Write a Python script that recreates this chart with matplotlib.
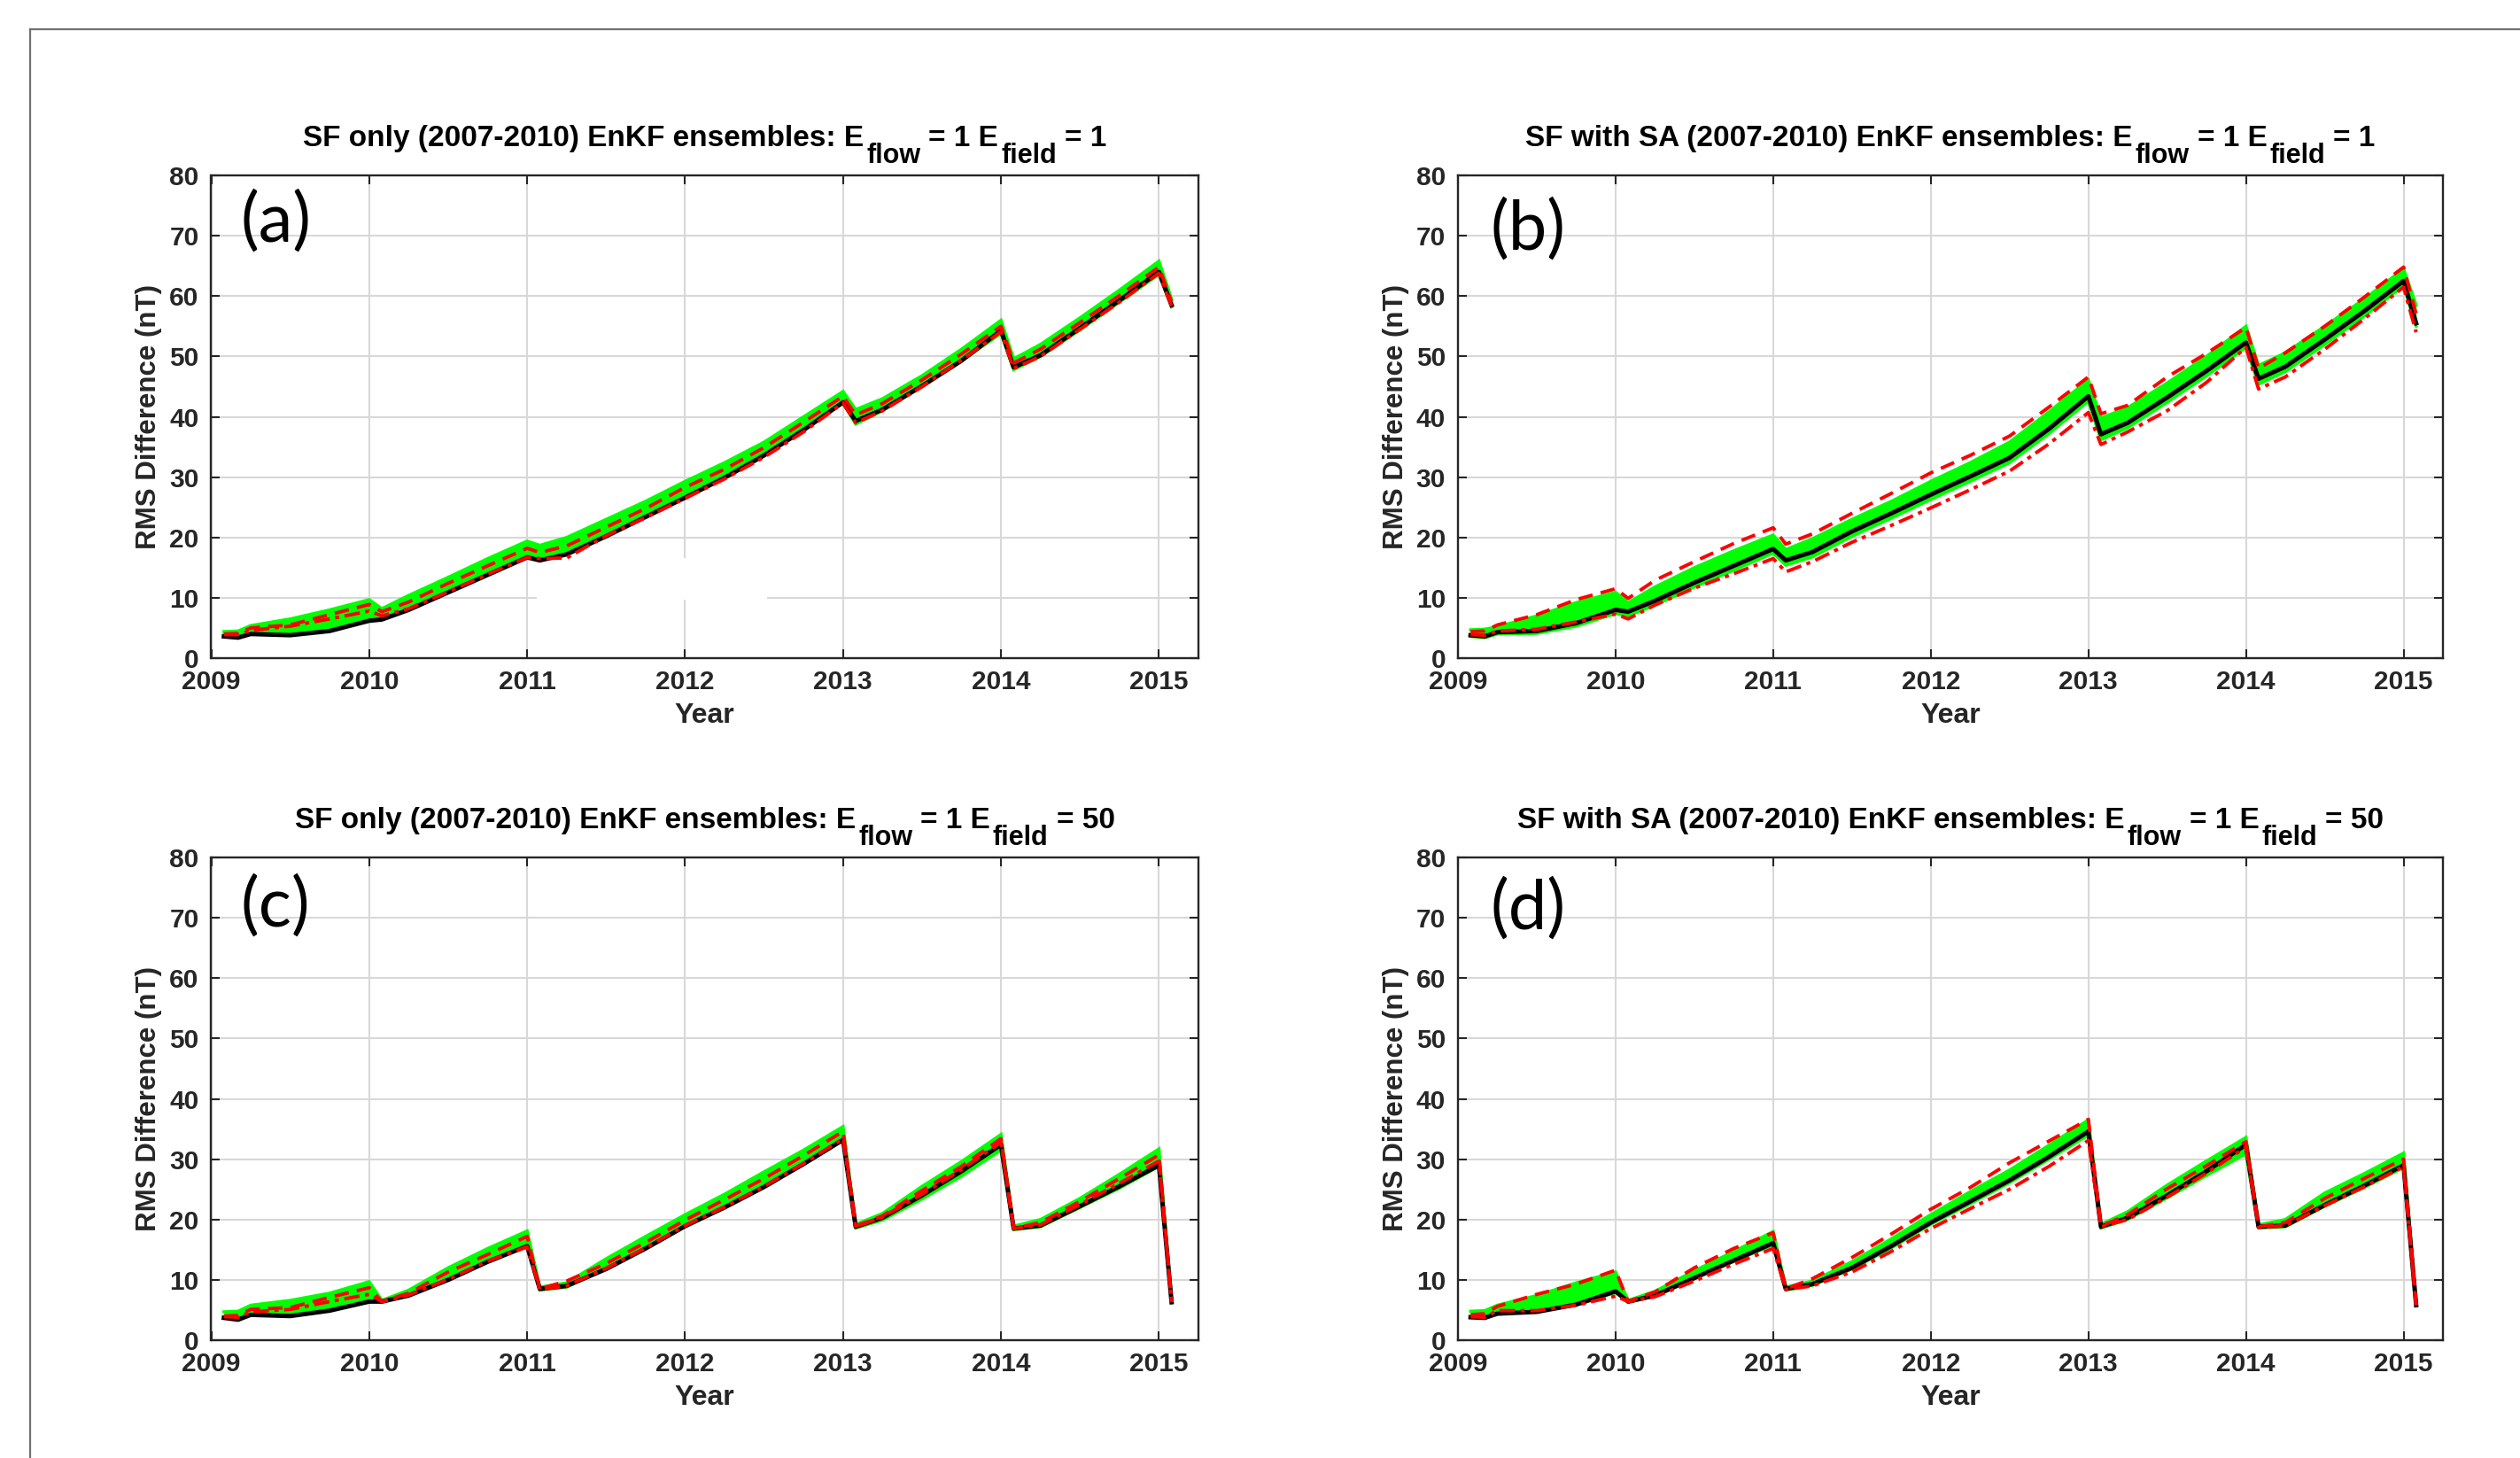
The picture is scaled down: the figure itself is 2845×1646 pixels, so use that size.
import matplotlib
matplotlib.use("Agg")
import matplotlib.pyplot as plt
from matplotlib.lines import Line2D
from matplotlib.patches import Rectangle

# ---------------- data ----------------
t = [2009.08, 2009.17, 2009.25, 2009.5, 2009.75, 2010.0, 2010.08, 2010.25, 2010.5, 2010.75,
     2011.0, 2011.08, 2011.25, 2011.5, 2011.75, 2012.0, 2012.25, 2012.5, 2012.75, 2013.0,
     2013.08, 2013.25, 2013.5, 2013.75, 2014.0, 2014.08, 2014.25, 2014.5, 2014.75, 2015.0, 2015.08]

# (a) SF only, Efield = 1
a_black = [3.6, 3.4, 4.0, 3.8, 4.5, 6.2, 6.4, 8.0, 10.9, 13.8, 16.7, 16.2, 17.2, 20.2, 23.4, 26.6,
           29.9, 33.6, 37.8, 42.4, 39.3, 41.2, 45.1, 49.3, 54.3, 48.2, 50.2, 54.7, 59.3, 64.0, 58.5]
a_ghi = [4.4, 4.5, 5.4, 6.5, 8.0, 9.7, 8.2, 10.4, 13.4, 16.5, 19.4, 18.7, 20.0, 23.0, 26.0, 29.3,
         32.4, 35.8, 40.0, 44.2, 41.2, 43.0, 46.8, 51.2, 56.0, 49.6, 52.0, 56.4, 61.0, 65.8, 59.5]
a_glo = [3.8, 3.7, 4.3, 4.3, 5.0, 6.4, 6.5, 8.2, 11.1, 14.1, 16.9, 16.6, 17.4, 20.4, 23.6, 26.8,
         30.1, 33.8, 38.0, 42.3, 38.8, 41.0, 45.0, 49.3, 53.8, 47.8, 50.0, 54.4, 59.0, 63.6, 58.2]
a_rdash = [4.0, 4.1, 5.0, 5.5, 7.2, 8.9, 7.7, 9.3, 12.4, 15.3, 18.2, 17.5, 18.6, 21.7, 24.8, 28.3,
           31.3, 34.9, 39.1, 43.4, 40.3, 42.2, 46.1, 50.4, 55.0, 48.9, 51.2, 55.6, 60.1, 64.8, 59.0]
a_rdot = [3.9, 3.9, 4.6, 5.3, 6.5, 7.8, 7.0, 8.2, 11.0, 13.9, 16.7, 16.5, 16.6, 20.3, 23.3, 26.5,
          29.7, 33.3, 37.5, 42.3, 39.0, 41.0, 45.0, 49.4, 54.1, 48.0, 50.0, 54.5, 59.0, 63.8, 58.3]

# (b) SF with SA, Efield = 1
b_black = [3.8, 3.6, 4.3, 4.5, 5.8, 8.0, 7.7, 9.5, 12.5, 15.3, 18.1, 16.2, 17.6, 21.0, 24.0, 27.1,
           30.1, 33.2, 38.0, 43.4, 37.1, 39.0, 43.2, 47.6, 52.3, 46.3, 48.3, 52.8, 57.5, 62.5, 55.5]
b_ghi = [4.7, 4.8, 5.2, 7.0, 9.2, 10.9, 9.2, 11.8, 15.0, 17.8, 20.4, 18.0, 19.8, 23.0, 26.0, 29.3,
         32.4, 35.8, 40.8, 46.1, 39.8, 41.5, 45.6, 50.0, 55.0, 48.5, 50.6, 55.0, 59.5, 64.5, 58.5]
b_glo = [3.6, 3.4, 4.0, 4.1, 5.3, 7.4, 7.0, 8.8, 11.8, 14.6, 17.4, 15.4, 16.8, 20.2, 23.2, 26.3,
         29.3, 32.4, 37.2, 42.6, 36.2, 38.2, 42.4, 46.8, 51.5, 45.4, 47.5, 52.0, 56.7, 61.7, 55.0]
b_rdash = [4.4, 4.5, 5.5, 7.2, 9.7, 11.5, 9.9, 12.9, 16.0, 19.0, 21.6, 18.9, 20.6, 24.0, 27.3, 30.7,
           33.6, 36.8, 41.6, 46.6, 40.5, 41.9, 46.6, 50.5, 54.8, 48.0, 50.6, 55.0, 59.8, 64.8, 57.0]
b_rdot = [3.9, 3.8, 4.5, 4.8, 6.0, 7.3, 6.5, 8.8, 11.6, 14.0, 16.5, 14.3, 16.0, 19.2, 22.0, 24.9,
          27.9, 31.0, 35.5, 40.7, 35.4, 37.5, 41.0, 45.7, 51.5, 44.6, 46.6, 51.2, 56.2, 61.5, 54.0]

# (c) SF only, Efield = 50
c_black = [3.7, 3.4, 4.2, 4.0, 4.9, 6.4, 6.4, 7.4, 10.0, 13.0, 15.6, 8.5, 9.0, 11.8, 15.2, 18.9,
           22.0, 25.4, 29.2, 33.2, 18.8, 20.3, 24.0, 28.0, 32.4, 18.5, 19.0, 22.2, 25.5, 29.0, 6.3]
c_ghi = [4.7, 4.8, 5.8, 6.6, 7.8, 9.7, 6.6, 8.3, 12.0, 15.2, 18.1, 8.8, 9.5, 13.5, 17.2, 20.8,
         24.2, 27.9, 31.5, 35.4, 19.2, 21.0, 25.5, 29.6, 34.1, 18.9, 20.0, 23.5, 27.5, 31.7, 6.6]
c_glo = [3.9, 3.8, 4.4, 4.4, 5.3, 6.6, 6.3, 7.5, 10.2, 13.2, 15.8, 8.3, 8.8, 11.9, 15.3, 19.0,
         22.1, 25.5, 29.3, 33.2, 18.6, 19.9, 23.4, 27.2, 31.5, 18.3, 18.8, 22.0, 25.2, 28.8, 6.2]
c_rdash = [4.0, 4.1, 5.1, 5.4, 7.1, 8.7, 6.4, 7.8, 11.3, 14.2, 17.2, 8.5, 9.8, 12.7, 16.2, 19.9,
           23.3, 26.8, 30.6, 34.6, 18.9, 20.6, 24.8, 28.8, 33.4, 18.5, 19.5, 23.0, 26.8, 30.7, 6.3]
c_rdot = [3.9, 3.8, 4.7, 5.1, 6.4, 7.6, 6.4, 7.5, 10.1, 13.1, 15.5, 8.4, 9.0, 11.9, 15.3, 19.0,
          22.1, 25.5, 29.3, 33.4, 18.8, 20.4, 24.2, 28.3, 32.8, 18.5, 19.1, 22.5, 26.0, 29.7, 6.3]

# (d) SF with SA, Efield = 50
d_black = [3.8, 3.7, 4.4, 4.7, 5.9, 8.1, 6.4, 7.4, 10.3, 13.2, 16.1, 8.5, 9.3, 12.0, 15.6, 19.5,
           23.0, 26.5, 30.4, 34.6, 18.8, 20.3, 24.0, 28.0, 32.4, 18.8, 19.0, 22.4, 25.6, 29.0, 5.8]
d_ghi = [4.8, 4.9, 5.8, 7.4, 9.5, 11.3, 6.6, 8.1, 11.5, 14.7, 18.0, 8.8, 9.8, 13.0, 16.8, 20.8,
         24.6, 28.2, 32.3, 36.5, 19.2, 21.3, 25.7, 29.7, 33.6, 19.1, 20.0, 24.4, 27.6, 31.0, 6.1]
d_glo = [3.9, 3.8, 4.5, 4.8, 6.0, 7.9, 6.3, 7.3, 10.2, 13.1, 15.8, 8.3, 9.1, 11.8, 15.3, 19.2,
         22.6, 26.1, 30.0, 34.0, 18.6, 20.0, 23.6, 27.3, 30.9, 18.6, 18.8, 22.2, 25.3, 28.6, 5.7]
d_rdash = [4.2, 4.4, 5.6, 7.6, 9.3, 11.6, 6.4, 8.0, 12.0, 15.2, 17.8, 8.5, 10.2, 13.7, 17.6, 21.7,
           25.3, 29.4, 33.0, 36.6, 18.9, 20.8, 25.1, 28.9, 32.9, 18.8, 19.5, 23.5, 26.8, 30.0, 5.8]
d_rdot = [3.9, 3.8, 4.9, 4.9, 5.8, 7.3, 6.4, 7.2, 9.8, 12.6, 15.2, 8.4, 9.0, 11.3, 14.7, 18.5,
          21.8, 25.0, 28.8, 33.1, 18.8, 20.0, 23.7, 27.7, 32.0, 18.7, 19.0, 22.3, 25.4, 28.8, 5.8]

year_ticks = [2009, 2010, 2011, 2012, 2013, 2014, 2015]
year_labels = ["2009", "2010", "2011", "2012", "2013", "2014", "2015"]
rms_ticks = [0, 10, 20, 30, 40, 50, 60, 70, 80]
panel_letters = ["(a)", "(b)", "(c)", "(d)"]
title_main = ["SF only (2007-2010) EnKF ensembles: E", "SF with SA (2007-2010) EnKF ensembles: E",
              "SF only (2007-2010) EnKF ensembles: E", "SF with SA (2007-2010) EnKF ensembles: E"]
title_field_values = ["1", "1", "50", "50"]
xlabel_text = "Year"
ylabel_text = "RMS Difference (nT)"

# ---------------- style ----------------
plt.rcParams['font.family'] = ['Liberation Sans', 'DejaVu Sans']
plt.rcParams['font.weight'] = 'bold'
plt.rcParams['axes.labelweight'] = 'bold'

W, H = 2845, 1646
fig = plt.figure(figsize=(W / 100, H / 100), dpi=100)
fig.patch.set_facecolor('white')

# slide frame (left and top edges)
fx, fy = 34 / W, 1 - 33 / H
fig.add_artist(Line2D([fx, 1.0], [fy, fy], transform=fig.transFigure, color='#707070', lw=1.6))
fig.add_artist(Line2D([fx, fx], [0.0, fy], transform=fig.transFigure, color='#707070', lw=1.6))

# axes boxes in pixels: left, top, right, bottom
boxes = [(238.5, 198, 1353, 743), (1646, 198, 2758, 743),
         (238.5, 968, 1353, 1513), (1646, 968, 2758, 1513)]
letter_pos = [(0.030, 0.863), (0.033, 0.846), (0.030, 0.857), (0.033, 0.853)]

panels = [
    (a_black, a_ghi, a_glo, a_rdash, a_rdot),
    (b_black, b_ghi, b_glo, b_rdash, b_rdot),
    (c_black, c_ghi, c_glo, c_rdash, c_rdot),
    (d_black, d_ghi, d_glo, d_rdash, d_rdot),
]

axes = []
for i, (box, series) in enumerate(zip(boxes, panels)):
    l, tp, r, b = box
    ax = fig.add_axes([l / W, 1 - b / H, (r - l) / W, (b - tp) / H])
    axes.append(ax)
    black, ghi, glo, rdash, rdot = series

    ax.fill_between(t, glo, ghi, color='#00ff00', lw=0, zorder=2)
    ax.plot(t, ghi, color='#00ff00', lw=2.5, zorder=2, solid_joinstyle='miter')
    ax.plot(t, glo, color='#00ff00', lw=2.5, zorder=2, solid_joinstyle='miter')
    ax.plot(t, black, color='black', lw=3.6, zorder=3)
    ax.plot(t, rdot, color='red', lw=2.8, zorder=4, dashes=(4.5, 1.6, 1.2, 1.6))
    ax.plot(t, rdash, color='red', lw=2.8, zorder=5, dashes=(4.2, 2.4))

    if i == 0:
        # white patch present in the original image
        ax.add_patch(Rectangle((2011.06, 9.7), 1.46, 6.9, facecolor='white',
                               edgecolor='none', zorder=1.5))

    ax.set_xlim(2009, 2015.25)
    ax.set_ylim(0, 80)
    ax.set_xticks(year_ticks)
    ax.set_xticklabels(year_labels)
    ax.set_yticks(rms_ticks)
    ax.set_yticklabels([str(v) for v in rms_ticks])
    ax.set_axisbelow(True)
    ax.grid(True, color='#d8d8d8', lw=1.5)
    for s in ax.spines.values():
        s.set_color('#262626')
        s.set_linewidth(1.7)
        s.set_zorder(6)
    ax.tick_params(direction='in', length=7.5, width=1.5, top=True, right=True,
                   color='#262626', labelcolor='#262626', labelsize=21.5)
    ax.tick_params(axis='x', pad=9)
    ax.tick_params(axis='y', pad=10)

    ax.set_xlabel(xlabel_text, fontsize=23, color='#262626', va='baseline', fontweight='bold')
    ax.xaxis.set_label_coords(0.5, -73 / (b - tp))
    ax.set_ylabel(ylabel_text, fontsize=22.5, color='#262626', va='center', fontweight='bold')
    ax.yaxis.set_label_coords(-70 / (r - l), 0.5)

    ax.text(letter_pos[i][0], letter_pos[i][1], panel_letters[i], transform=ax.transAxes,
            fontsize=56, fontweight='normal', family=['Lato', 'DejaVu Sans'],
            ha='left', va='baseline', color='black', zorder=7)

# ---------------- titles with subscripts ----------------
renderer = fig.canvas.get_renderer()
MAIN, SUB = 24, 22
SUB_DROP = 18.5
for i, ax in enumerate(axes):
    l, tp, r, b = boxes[i]
    parts = [(title_main[i], False, 0), ("flow", True, 3), ("= 1 E", False, 9),
             ("field", True, 3), ("= " + title_field_values[i], False, 9)]
    objs = []
    total = 0.0
    for s, sub, gap in parts:
        tx = fig.text(0, 0, s, fontsize=SUB if sub else MAIN, fontweight='bold',
                      ha='left', va='baseline', color='black')
        w = tx.get_window_extent(renderer).width
        objs.append((tx, sub, gap, w))
        total += gap + w
    cx = (l + r) / 2
    x = cx - total / 2
    base = H - (tp - 33)  # baseline in pixels from bottom
    for tx, sub, gap, w in objs:
        x += gap
        y = base - SUB_DROP if sub else base
        tx.set_position((x / W, y / H))
        x += w

fig.savefig("out.png", dpi=100, facecolor='white')
